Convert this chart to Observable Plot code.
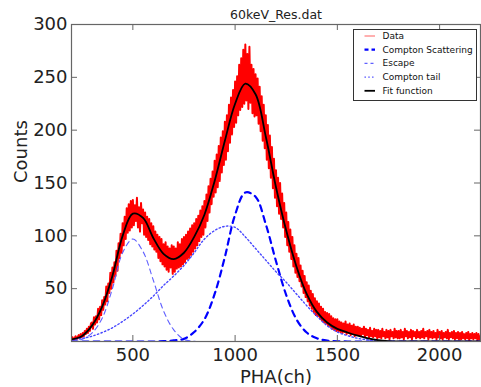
<!DOCTYPE html>
<html><head><meta charset="utf-8">
<script src="https://cdn.jsdelivr.net/npm/d3@7"></script>
<script src="https://cdn.jsdelivr.net/npm/@observablehq/plot@0.6"></script>
<style>
html,body{margin:0;padding:0;background:#fff;}
#wrap{position:relative;width:481px;height:387px;overflow:hidden;}
</style></head><body><div id="wrap"></div>
<script>
const titleText = "60keV_Res.dat";
const xLabel = "PHA(ch)";
const yLabel = "Counts";
const xTicks = [500, 1000, 1500, 2000];
const yTicks = [50, 100, 150, 200, 250, 300];
const legendLabels = ["Data", "Compton Scattering", "Escape", "Compton tail", "Fit function"];

// model components, sampled every 50 channels
const compCh = [200,250,300,350,400,450,500,550,600,650,700,750,800,850,900,950,1000,1050,1100,1150,1200,1250,1300,1350,1400,1450,1500,1550,1600,1650,1700,1750,1800,1850,1900,1950,2000,2050,2100,2150,2200];
const csVals = [0,0,0,0,0,0,0,0,0,0.3, 1,2.5,9,21,45,80,120,141,137,111, 76,44,21,8.5,3,0.8,0.2, 0,0,0,0,0,0,0,0,0,0,0,0,0,0];
const escVals = [0.5,2,8,22,50,84,97,85,58,29,11,2,0.3, 0,0,0,0,0,0,0,0,0,0,0,0,0,0,0,0,0,0,0,0,0,0,0,0,0,0,0,0];
const tailVals = [1.5,3,5,8.5,13,19,26,34,43,53, 62,72,84,97,105,109,108,99,88,77, 66,56,45,34,24,15,9,5.5,3,1.5, 0.7,0.3,0.1, 0,0,0,0,0,0,0,0];
const fitVals = [2,5,15,33,62,100,121,117,98,83, 78,84,99,120,152,190,225,244,234,194, 146,105,71,45,28,18,12,8.5,5.5,3, 1.2,0.3, 0,0,0,0,0,0,0,0,0];

// measured spectrum, every 5 channels from 200
const dataStartCh = 200, dataStepCh = 5;
const dataVals = [
2,4,1,3,5,2,4,6,3,7,4,8,5,10,7,12,8,14,10,17,
18,12,23,16,24,18,31,21,33,25,39,30,42,35,52,38,55,46,65,50,
70,56,75,62,86,67,93,79,102,84,112,91,118,97,126,103,130,105,133,108,
134,110,129,114,136,108,127,104,131,112,125,101,122,99,118,96,116,92,112,90,
109,87,104,85,101,79,99,76,97,73,92,71,94,68,90,66,88,70,91,64,
90,66,88,69,94,70,92,71,97,73,99,75,101,78,104,79,107,82,110,85,
112,88,116,91,119,95,124,99,128,101,133,108,139,114,147,122,154,130,161,137,
171,141,177,146,185,152,193,160,199,167,208,172,214,180,224,188,231,196,238,203,
246,207,251,214,262,219,268,222,276,225,281,228,272,220,279,226,262,216,258,213,
253,214,249,206,241,199,232,190,224,183,214,172,205,164,195,155,184,145,173,136,
162,128,155,121,150,116,140,108,131,99,122,91,113,85,106,78,99,71,91,65,
83,61,79,57,72,52,67,46,62,42,56,38,53,34,48,31,45,28,41,25,
38,24,36,22,33,20,31,18,28,17,27,15,26,14,24,12,22,11,21,10,
21,10,19,9,18,8,17,9,19,7,16,8,17,6,15,7,16,5,14,6,
14,6,13,5,12,7,14,4,12,6,11,4,13,5,10,4,12,5,11,3,
11,4,10,3,12,5,9,3,11,4,10,2,11,5,9,3,12,4,10,3,
10,3,11,4,9,2,12,5,10,3,9,4,11,2,10,5,9,3,11,4,
9,3,10,4,12,3,9,5,10,2,11,4,9,3,10,4,8,2,11,4,
9,3,10,2,8,4,9,3,11,2,8,4,9,3,10,2,8,3,9,2,
8,2,9,3,7,2,8,3,9,1,7,3,8,2,7,3,8,1,7,2,
5];

const W = 481, H = 387, mT = 24, mR = 1, mB = 46, mL = 71;
const frameW = W - mL - mR, frameH = H - mT - mB;
const comp = compCh.map((ch, i) => ({ch, cs: csVals[i], esc: escVals[i], tail: tailVals[i], fit: fitVals[i]}));
const data = dataVals.map((v, i) => ({ch: dataStartCh + i * dataStepCh, v}));

const styles = [
  {stroke: "#ff0000", width: 2, dash: null},
  {stroke: "#0000ff", width: 2.2, dash: "6,5"},
  {stroke: "#6060ff", width: 1.1, dash: "5,4"},
  {stroke: "#4848ff", width: 1.4, dash: "1.4,2.4"},
  {stroke: "#000000", width: 1.8, dash: null}
];

const chart = Plot.plot({
  width: W, height: H, marginTop: mT, marginRight: mR, marginBottom: mB, marginLeft: mL,
  style: {fontFamily: "DejaVu Sans", background: "#fff", color: "#222"},
  x: {domain: [200, 2200], label: null},
  y: {domain: [0, 300], label: null},
  marks: [
    Plot.line(data, {x: "ch", y: "v", stroke: styles[0].stroke, strokeWidth: styles[0].width, strokeLinejoin: "round", clip: true}),
    Plot.line(comp, {x: "ch", y: "cs", stroke: styles[1].stroke, strokeWidth: styles[1].width, strokeDasharray: styles[1].dash, curve: "catmull-rom", clip: true}),
    Plot.line(comp, {x: "ch", y: "esc", stroke: styles[2].stroke, strokeWidth: styles[2].width, strokeDasharray: styles[2].dash, curve: "catmull-rom", clip: true}),
    Plot.line(comp, {x: "ch", y: "tail", stroke: styles[3].stroke, strokeWidth: styles[3].width, strokeDasharray: styles[3].dash, curve: "catmull-rom", clip: true}),
    Plot.line(comp, {x: "ch", y: "fit", stroke: styles[4].stroke, strokeWidth: styles[4].width, curve: "catmull-rom", clip: true}),
    Plot.frame({stroke: "#666", strokeWidth: 1.2}),
    Plot.tickX(xTicks, {x: d => d, insetTop: frameH - 6, stroke: "#666"}),
    Plot.tickX(xTicks, {x: d => d, insetBottom: frameH - 6, stroke: "#666"}),
    Plot.tickY(yTicks, {y: d => d, insetRight: frameW - 6, stroke: "#666"}),
    Plot.tickY(yTicks, {y: d => d, insetLeft: frameW - 6, stroke: "#666"}),
    Plot.axisX(xTicks, {tickSize: 0, tickPadding: 7, fontSize: 18, label: null, tickFormat: d => String(d)}),
    Plot.axisY(yTicks, {tickSize: 0, tickPadding: 4, fontSize: 18, label: null, tickFormat: d => String(d)}),
    Plot.text([titleText], {text: d => d, frameAnchor: "top", dy: -5.5, lineAnchor: "bottom", fontSize: 12.5}),
    Plot.text([xLabel], {text: d => d, frameAnchor: "bottom", dy: 41, lineAnchor: "bottom", fontSize: 18}),
    Plot.text([yLabel], {text: d => d, frameAnchor: "left", dx: -50.5, rotate: -90, fontSize: 18})
  ]
});
const wrap = document.getElementById("wrap");
wrap.appendChild(chart);

// legend overlay
const leg = d3.select(wrap).append("svg")
  .attr("width", W).attr("height", H)
  .style("position", "absolute").style("left", "0px").style("top", "0px")
  .style("font-family", "DejaVu Sans");
leg.append("rect").attr("x", 353.5).attr("y", 29.5).attr("width", 123).attr("height", 71)
  .attr("fill", "#fff").attr("stroke", "#333").attr("stroke-width", 1);
legendLabels.forEach((lab, i) => {
  const y = 36 + i * 13.7;
  const s = styles[i];
  leg.append("line").attr("x1", 364.5).attr("x2", 375).attr("y1", y).attr("y2", y)
    .attr("stroke", i === 0 ? "#ff6060" : s.stroke).attr("stroke-width", i === 0 ? 1 : s.width)
    .attr("stroke-dasharray", s.dash ? (i === 1 ? "4,3" : i === 2 ? "3,3" : s.dash) : null);
  leg.append("text").attr("x", 382.5).attr("y", y).attr("dy", "0.34em")
    .attr("font-size", 9).attr("fill", "#111").text(lab);
});
</script>
</body></html>
